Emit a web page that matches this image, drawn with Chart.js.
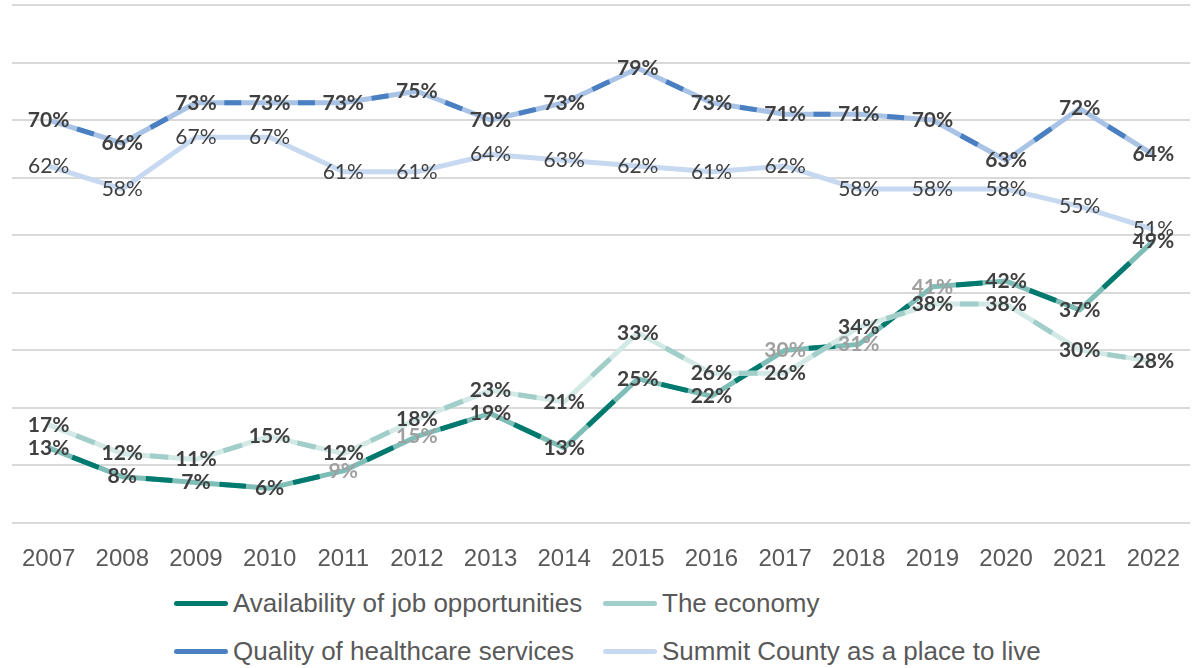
<!DOCTYPE html>
<html>
<head>
<meta charset="utf-8">
<script src="https://cdn.jsdelivr.net/npm/chart.js@4.4.1/dist/chart.umd.min.js"></script>
<style>
  html, body { margin: 0; padding: 0; background: #fff; overflow: hidden; }
  #wrap { position: relative; width: 1202px; height: 668px; }
  #trendChart { position: absolute; left: 0; top: 0; }
  .legend-item {
    position: absolute; height: 32px; display: flex; align-items: center;
    font-family: 'Liberation Sans', sans-serif;
    font-size: 26px; color: #595959; white-space: nowrap;
  }
  .legend-line { width: 54px; height: 5px; border-radius: 2.5px; margin-right: 5px; flex: none; }
</style>
</head>
<body>
<div id="wrap">
  <canvas id="trendChart" width="1202" height="583"></canvas>
  <div id="legend"></div>
</div>
<script>
const years = ['2007', '2008', '2009', '2010', '2011', '2012', '2013', '2014',
               '2015', '2016', '2017', '2018', '2019', '2020', '2021', '2022'];

const jobOpportunities = [13, 8, 7, 6, 9, 15, 19, 13, 25, 22, 30, 31, 41, 42, 37, 49];
const economy          = [17, 12, 11, 15, 12, 18, 23, 21, 33, 26, 26, 34, 38, 38, 30, 28];
const healthcare       = [70, 66, 73, 73, 73, 75, 70, 73, 79, 73, 71, 71, 70, 63, 72, 64];
const placeToLive      = [62, 58, 67, 67, 61, 61, 64, 63, 62, 61, 62, 58, 58, 58, 55, 51];

const seriesNames = ['Availability of job opportunities', 'The economy',
                     'Quality of healthcare services', 'Summit County as a place to live'];

// job labels that are printed in a lighter grey
const fadedJobYears = ['2011', '2012', '2017', '2018', '2019'];

const series = [
  { name: seriesNames[0], data: jobOpportunities, color: '#00796f', base: '#7fbdb7', dash: 0.36, bold: true },
  { name: seriesNames[1], data: economy,          color: '#a2cec9', base: '#d3e9e6', dash: 0.25, bold: true },
  { name: seriesNames[2], data: healthcare,       color: '#4a7fc1', base: '#a8c3e6', dash: 0.23, bold: true },
  { name: seriesNames[3], data: placeToLive,      color: '#c6d9f1', base: '#c6d9f1', dash: 0,    bold: false }
];

function segLength(ctx) {
  const dx = ctx.p1.x - ctx.p0.x, dy = ctx.p1.y - ctx.p0.y;
  return Math.sqrt(dx * dx + dy * dy);
}

// one darker dash in the middle of every segment
function middleDash(frac) {
  return {
    borderDash: ctx => [segLength(ctx) * frac, 10000],
    borderDashOffset: ctx => {
      const len = segLength(ctx);
      return -(len - len * frac) / 2 - ctx.p0DataIndex * 0.001;
    }
  };
}

const datasets = [];
series.forEach((s, i) => {
  const order = (series.length - i) * 2;
  datasets.push({
    label: s.name, data: s.data, borderColor: s.base, borderWidth: 5,
    pointRadius: 0, tension: 0, borderJoinStyle: 'round', borderCapStyle: 'butt',
    order: order, seriesIndex: i
  });
  if (s.dash > 0) {
    datasets.push({
      label: s.name + ' dash', data: s.data, borderColor: s.color, borderWidth: 5,
      pointRadius: 0, tension: 0, borderCapStyle: 'butt',
      segment: middleDash(s.dash), order: order - 1
    });
  }
});

const valueLabels = {
  id: 'valueLabels',
  afterDatasetsDraw(chart) {
    const ctx = chart.ctx;
    ctx.save();
    ctx.textAlign = 'center';
    ctx.textBaseline = 'middle';
    // last series first so the job labels end up on top
    for (let i = series.length - 1; i >= 0; i--) {
      const s = series[i];
      const dsIndex = chart.data.datasets.findIndex(d => d.seriesIndex === i);
      const meta = chart.getDatasetMeta(dsIndex);
      ctx.font = (s.bold ? '700 ' : '400 ') + '21px Lato';
      meta.data.forEach((pt, j) => {
        let color = '#404040';
        if (i === 0 && fadedJobYears.includes(years[j])) color = '#a0a0a0';
        ctx.fillStyle = color;
        ctx.fillText(s.data[j] + '%', pt.x, pt.y);
      });
    }
    ctx.restore();
  }
};

new Chart(document.getElementById('trendChart'), {
  type: 'line',
  data: { labels: years, datasets: datasets },
  options: {
    responsive: false,
    animation: false,
    layout: { padding: { left: 9, right: 1, top: 5, bottom: 0 } },
    plugins: { legend: { display: false }, tooltip: { enabled: false } },
    scales: {
      x: {
        offset: true,
        grid: { display: false, drawTicks: false },
        border: { display: false },
        ticks: {
          color: '#595959', padding: 22, maxRotation: 0, autoSkip: false,
          font: { family: "'Liberation Sans', sans-serif", size: 24 }
        },
        afterFit: scale => { scale.height = 60.3; }
      },
      y: {
        min: 0, max: 90,
        ticks: { display: false, stepSize: 10 },
        grid: { color: '#d9d9d9', lineWidth: 2, drawTicks: false },
        border: { display: false }
      }
    }
  },
  plugins: [valueLabels]
});

// two-column legend below the plot
const legendSpots = [[174, 603], [603, 603], [174, 651], [603, 651]];
const legend = document.getElementById('legend');
series.forEach((s, i) => {
  const item = document.createElement('div');
  item.className = 'legend-item';
  item.style.left = legendSpots[i][0] + 'px';
  item.style.top = (legendSpots[i][1] - 16) + 'px';
  const line = document.createElement('span');
  line.className = 'legend-line';
  line.style.background = s.color;
  item.appendChild(line);
  item.appendChild(document.createTextNode(s.name));
  legend.appendChild(item);
});
</script>
</body>
</html>
